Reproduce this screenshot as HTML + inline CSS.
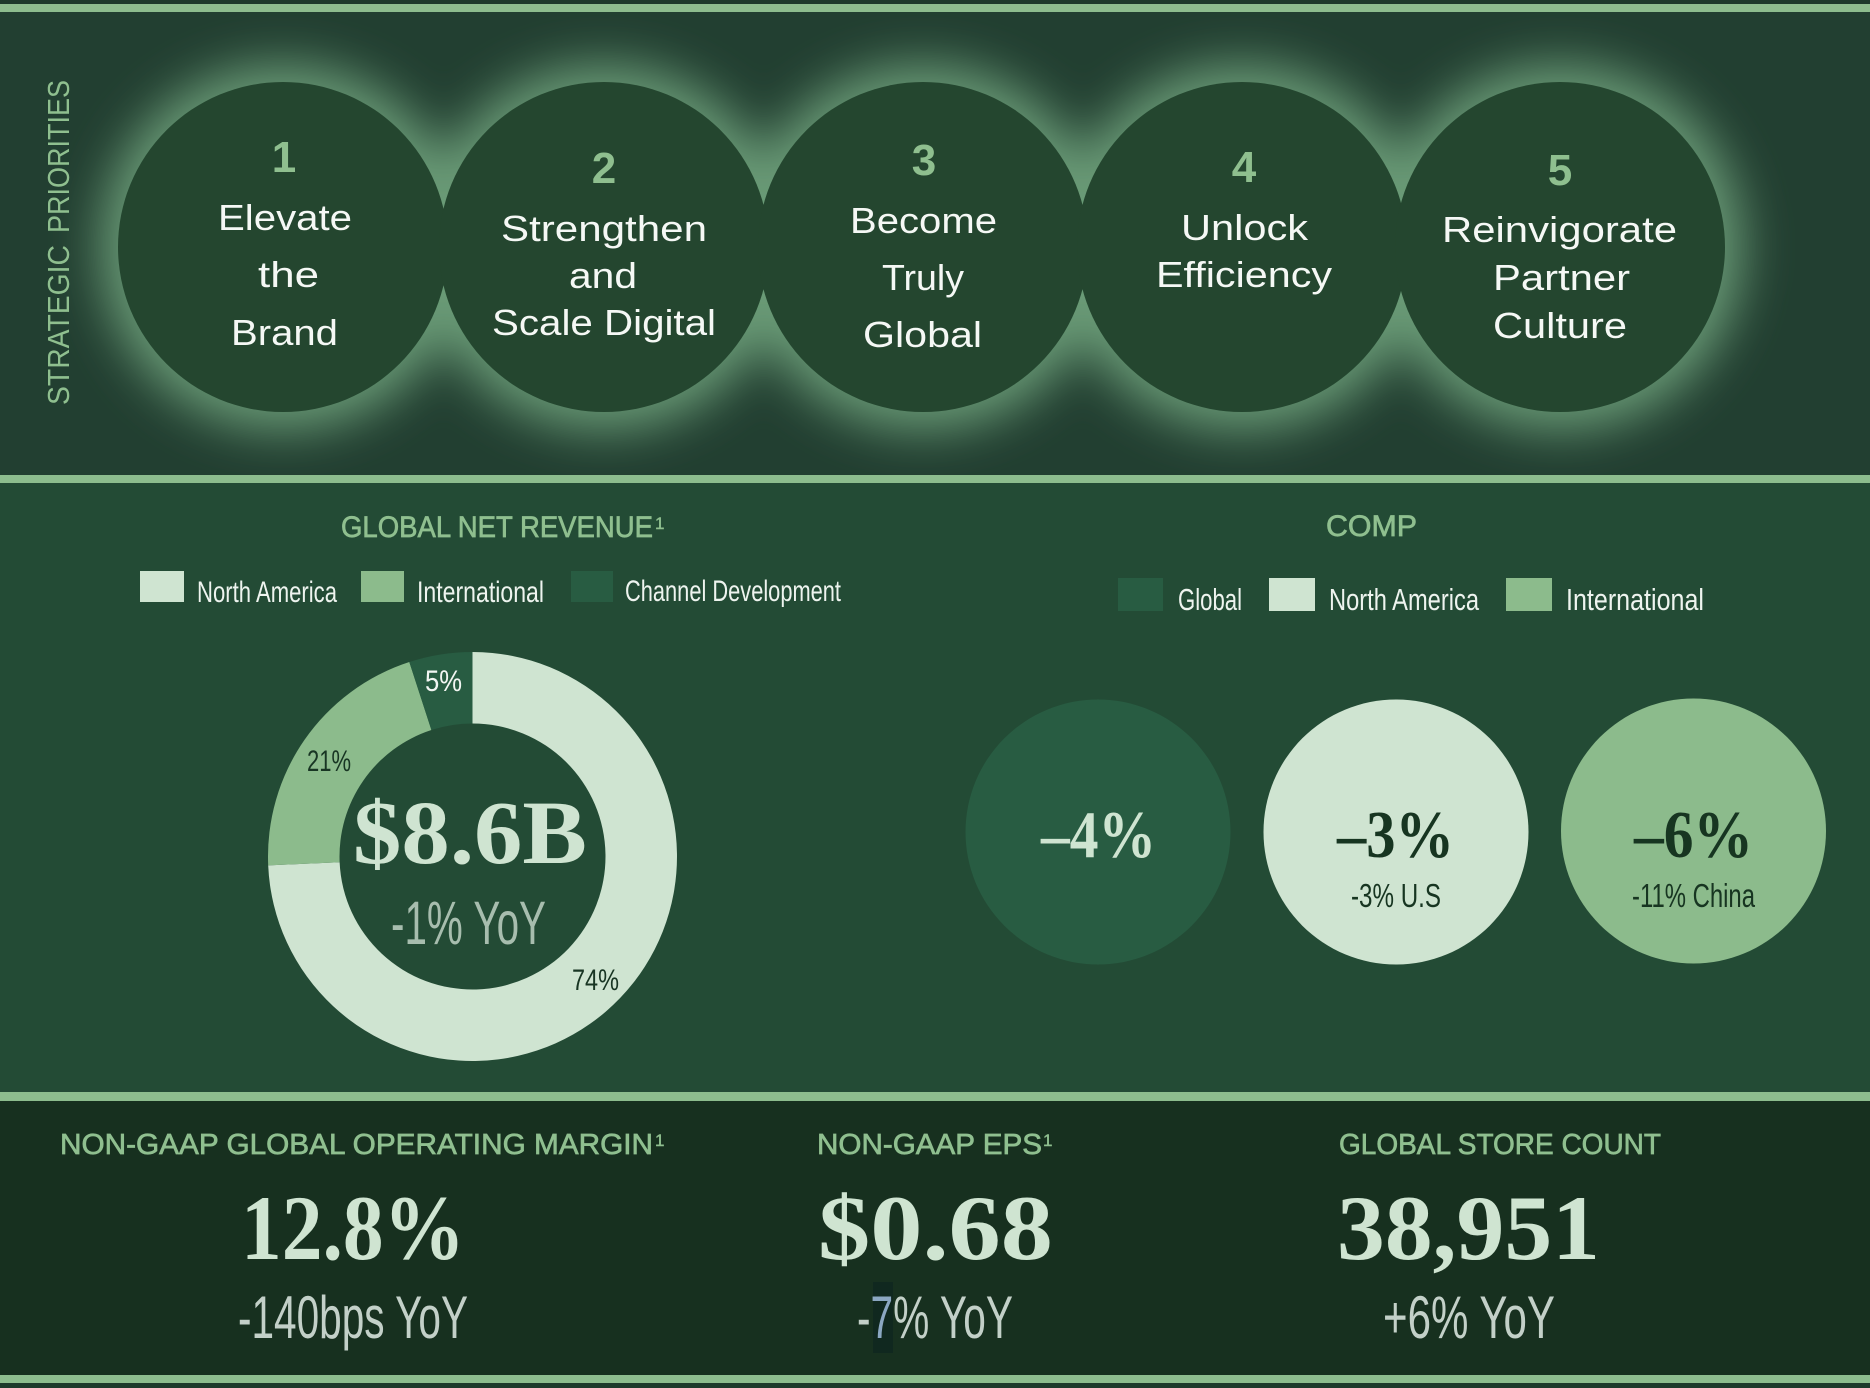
<!DOCTYPE html>
<html>
<head>
<meta charset="utf-8">
<style>
html,body{margin:0;padding:0;background:#1d3a2b;overflow:hidden;}
svg{display:block;}
.cal{font-family:"Liberation Sans",sans-serif;}
.nar{font-family:"Liberation Sans Narrow","Liberation Sans",sans-serif;}
.ser{font-family:"Liberation Serif",serif;font-weight:bold;}
</style>
</head>
<body>
<svg width="1870" height="1388" viewBox="0 0 1870 1388" xmlns="http://www.w3.org/2000/svg">
<defs>
<filter id="glow" x="-20%" y="-50%" width="140%" height="200%">
<feGaussianBlur stdDeviation="24"/>
</filter>
</defs>

<!-- backgrounds -->
<rect x="0" y="0" width="1870" height="1388" fill="#1d3a2b"/>
<rect x="0" y="12" width="1870" height="463" fill="#223f31"/>
<rect x="0" y="483" width="1870" height="609" fill="#234b35"/>
<rect x="0" y="1101" width="1870" height="274" fill="#17301f"/>

<!-- glow -->
<g filter="url(#glow)" fill="#699a76">
<circle cx="283" cy="247" r="183"/>
<circle cx="604" cy="247" r="183"/>
<circle cx="923" cy="247" r="183"/>
<circle cx="1242" cy="247" r="183"/>
<circle cx="1560" cy="247" r="183"/>
</g>

<!-- stripes -->
<rect x="0" y="4" width="1870" height="8" fill="#8dbd8e"/>
<rect x="0" y="475" width="1870" height="8" fill="#8dbd8e"/>
<rect x="0" y="1092" width="1870" height="9" fill="#8dbd8e"/>
<rect x="0" y="1375" width="1870" height="8" fill="#8dbd8e"/>

<!-- priority circles -->
<g fill="#24462f">
<circle cx="283" cy="247" r="165"/>
<circle cx="604" cy="247" r="165"/>
<circle cx="923" cy="247" r="165"/>
<circle cx="1242" cy="247" r="165"/>
<circle cx="1560" cy="247" r="165"/>
</g>

<!-- strategic priorities vertical -->
<g class="cal" font-size="31" fill="#8fbf8f">
<text transform="translate(69,405) rotate(-90)" x="0" y="0" textLength="160" lengthAdjust="spacingAndGlyphs">STRATEGIC</text>
<text transform="translate(69,233) rotate(-90)" x="0" y="0" textLength="153" lengthAdjust="spacingAndGlyphs">PRIORITIES</text>
</g>

<!-- numbers -->
<g class="cal" font-size="44" font-weight="bold" fill="#8fbf8f" text-anchor="middle">
<text x="284" y="172">1</text>
<text x="604" y="183">2</text>
<text x="924" y="175">3</text>
<text x="1244" y="182">4</text>
<text x="1560" y="185">5</text>
</g>

<!-- circle labels -->
<g class="cal" font-size="36" fill="#f5f8f5">
<text x="218" y="230" textLength="134" lengthAdjust="spacingAndGlyphs">Elevate</text>
<text x="258" y="287" textLength="61" lengthAdjust="spacingAndGlyphs">the</text>
<text x="231" y="345" textLength="107" lengthAdjust="spacingAndGlyphs">Brand</text>

<text x="501" y="241" textLength="206" lengthAdjust="spacingAndGlyphs">Strengthen</text>
<text x="569" y="288" textLength="68" lengthAdjust="spacingAndGlyphs">and</text>
<text x="492" y="335" textLength="224" lengthAdjust="spacingAndGlyphs">Scale Digital</text>

<text x="850" y="233" textLength="147" lengthAdjust="spacingAndGlyphs">Become</text>
<text x="882" y="290" textLength="82" lengthAdjust="spacingAndGlyphs">Truly</text>
<text x="863" y="347" textLength="119" lengthAdjust="spacingAndGlyphs">Global</text>

<text x="1181" y="240" textLength="127" lengthAdjust="spacingAndGlyphs">Unlock</text>
<text x="1156" y="287" textLength="176" lengthAdjust="spacingAndGlyphs">Efficiency</text>

<text x="1442" y="242" textLength="235" lengthAdjust="spacingAndGlyphs">Reinvigorate</text>
<text x="1493" y="290" textLength="137" lengthAdjust="spacingAndGlyphs">Partner</text>
<text x="1493" y="338" textLength="134" lengthAdjust="spacingAndGlyphs">Culture</text>
</g>

<!-- section 2 headers -->
<g class="cal" font-size="30" fill="#8fbf8f" stroke="#8fbf8f" stroke-width="0.7">
<text x="341" y="537" textLength="312" lengthAdjust="spacingAndGlyphs">GLOBAL NET REVENUE</text>
<text x="655" y="529" font-size="17" stroke-width="0.4">1</text>
<text x="1326" y="536" textLength="91" lengthAdjust="spacingAndGlyphs">COMP</text>
</g>

<!-- donut legend -->
<rect x="140" y="571" width="44" height="31" fill="#cfe4d1"/>
<rect x="361" y="571" width="43" height="31" fill="#8cbb8c"/>
<rect x="571" y="571" width="42" height="31" fill="#285c42"/>
<g class="nar" font-size="30" fill="#eef4ef">
<text x="197" y="602" textLength="140" lengthAdjust="spacingAndGlyphs">North America</text>
<text x="417" y="602" textLength="127" lengthAdjust="spacingAndGlyphs">International</text>
<text x="625" y="601" textLength="216" lengthAdjust="spacingAndGlyphs">Channel Development</text>
</g>

<!-- comp legend -->
<rect x="1118" y="578" width="45" height="33" fill="#285c42"/>
<rect x="1269" y="578" width="46" height="33" fill="#cfe4d1"/>
<rect x="1506" y="578" width="46" height="33" fill="#8cbb8c"/>
<g class="nar" font-size="31" fill="#eef4ef">
<text x="1178" y="610" textLength="64" lengthAdjust="spacingAndGlyphs">Global</text>
<text x="1329" y="610" textLength="150" lengthAdjust="spacingAndGlyphs">North America</text>
<text x="1566" y="610" textLength="138" lengthAdjust="spacingAndGlyphs">International</text>
</g>

<!-- donut -->
<path d="M 472.5 652 A 204.5 204.5 0 1 1 268.19 865.42 L 339.63 862.30 A 133 133 0 1 0 472.5 723.5 Z" fill="#cfe4d1"/>
<path d="M 268.19 865.42 A 204.5 204.5 0 0 1 409.31 662.01 L 431.40 730.01 A 133 133 0 0 0 339.63 862.30 Z" fill="#8cbb8c"/>
<path d="M 409.31 662.01 A 204.5 204.5 0 0 1 472.5 652 L 472.5 723.5 A 133 133 0 0 0 431.40 730.01 Z" fill="#285c42"/>

<g class="nar" font-size="30">
<text x="425" y="691" textLength="37" lengthAdjust="spacingAndGlyphs" fill="#f2f6f2">5%</text>
<text x="307" y="771" textLength="44" lengthAdjust="spacingAndGlyphs" fill="#183523">21%</text>
<text x="572" y="990" textLength="47" lengthAdjust="spacingAndGlyphs" fill="#183523">74%</text>
</g>

<text class="ser" x="353" y="863" font-size="90" fill="#cfe4d1" textLength="234" lengthAdjust="spacingAndGlyphs">$8.6B</text>
<text class="nar" x="391" y="944" font-size="61" fill="#a7bdae" textLength="155" lengthAdjust="spacingAndGlyphs">-1% YoY</text>

<!-- comp circles -->
<circle cx="1098" cy="832" r="132.5" fill="#285c42"/>
<circle cx="1396" cy="832" r="132.5" fill="#cfe4d1"/>
<circle cx="1693.5" cy="831" r="132.5" fill="#8cbb8c"/>

<text class="ser" x="1041" y="857" font-size="67" fill="#cfe4d1" textLength="115" lengthAdjust="spacingAndGlyphs">–4%</text>
<text class="ser" x="1337" y="857" font-size="67" fill="#173521" textLength="117" lengthAdjust="spacingAndGlyphs">–3%</text>
<text class="ser" x="1634" y="857" font-size="67" fill="#173521" textLength="119" lengthAdjust="spacingAndGlyphs">–6%</text>

<g class="nar" font-size="33" fill="#173521">
<text x="1351" y="907" textLength="90" lengthAdjust="spacingAndGlyphs">-3% U.S</text>
<text x="1632" y="907" textLength="123" lengthAdjust="spacingAndGlyphs">-11% China</text>
</g>

<!-- section 3 -->
<g class="cal" font-size="29" fill="#8fbf8f" stroke="#8fbf8f" stroke-width="0.7">
<text x="60" y="1154" textLength="593" lengthAdjust="spacingAndGlyphs">NON-GAAP GLOBAL OPERATING MARGIN</text>
<text x="655" y="1146" font-size="17" stroke-width="0.4">1</text>
<text x="817" y="1154" textLength="225" lengthAdjust="spacingAndGlyphs">NON-GAAP EPS</text>
<text x="1043" y="1146" font-size="17" stroke-width="0.4">1</text>
<text x="1339" y="1154" textLength="322" lengthAdjust="spacingAndGlyphs">GLOBAL STORE COUNT</text>
</g>

<g class="ser" font-size="92" fill="#cfe4d1">
<text x="241" y="1259" textLength="224" lengthAdjust="spacingAndGlyphs">12.8%</text>
<text x="818" y="1259" textLength="235" lengthAdjust="spacingAndGlyphs">$0.68</text>
<text x="1337" y="1259" textLength="263" lengthAdjust="spacingAndGlyphs">38,951</text>
</g>

<rect x="873" y="1282" width="20" height="71" fill="#10281f"/>
<g class="nar" font-size="60" fill="#c3d0c8">
<text x="238" y="1338" textLength="230" lengthAdjust="spacingAndGlyphs">-140bps YoY</text>
<text x="857" y="1338" textLength="156" lengthAdjust="spacingAndGlyphs">-<tspan fill="#8ba7c2">7</tspan>% YoY</text>
<text x="1383" y="1338" textLength="172" lengthAdjust="spacingAndGlyphs">+6% YoY</text>
</g>
</svg>
</body>
</html>
